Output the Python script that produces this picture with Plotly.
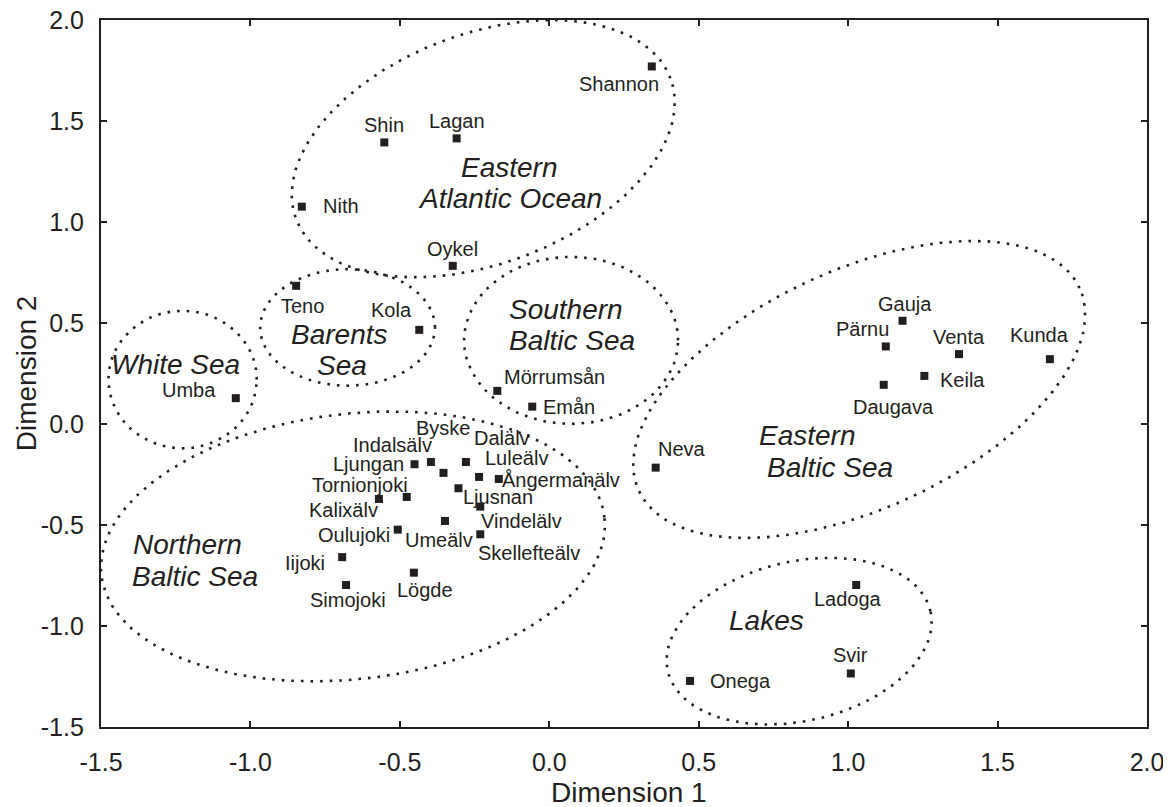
import numpy as np
import plotly.graph_objects as go

# ---------------- data ----------------
rivers = ["Shannon", "Lagan", "Shin", "Nith", "Oykel", "Teno", "Kola", "Umba",
          "Mörrumsån", "Emån", "Neva", "Gauja", "Pärnu", "Venta", "Kunda", "Keila",
          "Daugava", "Ladoga", "Svir", "Onega",
          "Ljungan", "Indalsälv", "Byske", "Dalälv", "Luleälv", "Ångermanälv",
          "Ljusnan", "Vindelälv", "Skellefteälv", "Umeälv", "Tornionjoki", "Kalixälv",
          "Oulujoki", "Iijoki", "Simojoki", "Lögde"]
dim1 = [0.343, -0.310, -0.552, -0.828, -0.323, -0.847, -0.435, -1.049,
        -0.174, -0.057, 0.356, 1.182, 1.126, 1.371, 1.675, 1.255,
        1.119, 1.027, 1.009, 0.471,
        -0.451, -0.396, -0.354, -0.279, -0.235, -0.169,
        -0.304, -0.231, -0.231, -0.349, -0.477, -0.570,
        -0.507, -0.693, -0.680, -0.453]
dim2 = [1.770, 1.414, 1.394, 1.076, 0.783, 0.684, 0.466, 0.128,
        0.164, 0.086, -0.216, 0.511, 0.384, 0.346, 0.321, 0.238,
        0.194, -0.797, -1.235, -1.272,
        -0.199, -0.188, -0.242, -0.188, -0.262, -0.272,
        -0.318, -0.409, -0.546, -0.480, -0.361, -0.371,
        -0.523, -0.659, -0.797, -0.736]

x_ticks = [-1.5, -1.0, -0.5, 0.0, 0.5, 1.0, 1.5, 2.0]
x_tick_labels = ["-1.5", "-1.0", "-0.5", "0.0", "0.5", "1.0", "1.5", "2.0"]
y_ticks = [-1.5, -1.0, -0.5, 0.0, 0.5, 1.0, 1.5, 2.0]
y_tick_labels = ["-1.5", "-1.0", "-0.5", "0.0", "0.5", "1.0", "1.5", "2.0"]

# group regions: name lines, ellipse centre (data units)
group_lines = [["Eastern", "Atlantic Ocean"], ["White Sea"], ["Barents", "Sea"],
               ["Southern", "Baltic Sea"], ["Northern", "Baltic Sea"],
               ["Eastern", "Baltic Sea"], ["Lakes"]]
group_cx = [-0.221, -1.227, -0.675, 0.073, -0.657, 1.037, 0.836]
group_cy = [1.363, 0.220, 0.478, 0.414, -0.606, 0.171, -1.075]

# ---------------- layout / style ----------------
# the page body has an 8px default margin, so the figure is 8px smaller
W, H = 1163, 799
ML, MR, MT, MB = 93, 24, 12, 80
XR = [-1.5, 2.0]
YR = [-1.5, 2.0]
sx = (W - ML - MR) / (XR[1] - XR[0])
sy = (H - MT - MB) / (YR[1] - YR[0])
INK = "#231f20"
FONT = "Liberation Sans, Arial, Helvetica, sans-serif"

# label offsets in pixels (dx right, dy down) of text centre from point
label_off = {
    "Shannon": (-33, 18), "Lagan": (0, -17), "Shin": (0, -17), "Nith": (39, -1),
    "Oykel": (0, -17), "Teno": (6, 20), "Kola": (-28, -20), "Umba": (-47, -8),
    "Mörrumsån": (57, -14), "Emån": (37, 0), "Neva": (26, -19), "Gauja": (2, -17),
    "Pärnu": (-23, -17), "Venta": (0, -17), "Kunda": (-10, -24), "Keila": (38, 4),
    "Daugava": (10, 22), "Ladoga": (-8, 14), "Svir": (0, -18), "Onega": (50, 0),
    "Ljungan": (-46, 0), "Indalsälv": (-38, -17), "Byske": (0, -45), "Dalälv": (36, -24),
    "Luleälv": (37, -19), "Ångermanälv": (62, 1), "Ljusnan": (40, 9),
    "Vindelälv": (41, 14), "Skellefteälv": (49, 19), "Umeälv": (-6, 19),
    "Tornionjoki": (-47, -12), "Kalixälv": (-35, 11), "Oulujoki": (-44, 5),
    "Iijoki": (-37, 6), "Simojoki": (2, 15), "Lögde": (11, 17),
}
# ellipse geometry in pixels: semi-axis a, semi-axis b, rotation (deg)
ell_geom = [(200, 115, 20.6), (74.2, 68.8, 0), (87.5, 58.3, 0), (107, 83.5, 0),
            (253.2, 132.7, 6.55), (242.6, 119.5, 24.7), (134.7, 79.8, 12.8)]
# region label line positions (data units)
group_label_pos = [[(-0.132, 1.271), (-0.133, 1.114)], [(-1.250, 0.296)],
                   [(-0.703, 0.445), (-0.692, 0.288)],
                   [(0.055, 0.569), (0.076, 0.412)],
                   [(-1.211, -0.596), (-1.184, -0.753)],
                   [(0.863, -0.059), (0.939, -0.216)], [(0.728, -0.972)]]

fig = go.Figure()

t = np.linspace(0, 2 * np.pi, 600)
for (cx, cy), (a, b, th) in zip(zip(group_cx, group_cy), ell_geom):
    r = np.deg2rad(th)
    ex = cx + (a * np.cos(t) * np.cos(r) - b * np.sin(t) * np.sin(r)) / sx
    ey = cy + (a * np.cos(t) * np.sin(r) + b * np.sin(t) * np.cos(r)) / sy
    fig.add_trace(go.Scatter(x=ex, y=ey, mode="lines", hoverinfo="skip",
                             line=dict(color=INK, width=2.6, dash="2.6px,7px"),
                             showlegend=False))

fig.add_trace(go.Scatter(x=dim1, y=dim2, mode="markers", text=rivers,
                         marker=dict(symbol="square", size=8, color=INK,
                                     line=dict(width=0)),
                         showlegend=False))

ann = []
for name, xv, yv in zip(rivers, dim1, dim2):
    dx, dy = label_off[name]
    ann.append(dict(x=xv, y=yv, text=name, showarrow=False, xshift=dx, yshift=-dy,
                    xanchor="center", yanchor="middle",
                    font=dict(family=FONT, size=20, color=INK)))
for lines, poss in zip(group_lines, group_label_pos):
    for txt, (px, py) in zip(lines, poss):
        ann.append(dict(x=px, y=py, text="<i>" + txt + "</i>", showarrow=False,
                        xanchor="center", yanchor="middle",
                        font=dict(family=FONT, size=28, color=INK)))
# axis titles
ann.append(dict(xref="paper", yref="paper", x=0.505, y=-0.093, text="Dimension 1",
                showarrow=False, xanchor="center", yanchor="middle",
                font=dict(family=FONT, size=28, color=INK)))
ann.append(dict(xref="paper", yref="paper", x=-0.071, y=0.5, text="Dimension 2",
                showarrow=False, xanchor="center", yanchor="middle", textangle=-90,
                font=dict(family=FONT, size=28, color=INK)))

axis_common = dict(ticks="inside", ticklen=6, tickwidth=1.5, tickcolor=INK,
                   showline=True, linewidth=2.2, linecolor=INK, mirror="ticks",
                   showgrid=False, zeroline=False, automargin=False,
                   ticklabeloverflow="allow",
                   tickfont=dict(family=FONT, size=25, color=INK))
fig.update_layout(
    width=W, height=H,
    margin=dict(l=ML, r=MR, t=MT, b=MB, autoexpand=False),
    paper_bgcolor="white", plot_bgcolor="white",
    xaxis=dict(range=XR, tickvals=x_ticks, ticktext=x_tick_labels,
               ticklabelstandoff=12, **axis_common),
    yaxis=dict(range=YR, tickvals=y_ticks, ticktext=y_tick_labels,
               ticklabelstandoff=10, **axis_common),
    annotations=ann,
    font=dict(family=FONT, color=INK),
)

fig.write_html("out.html")
